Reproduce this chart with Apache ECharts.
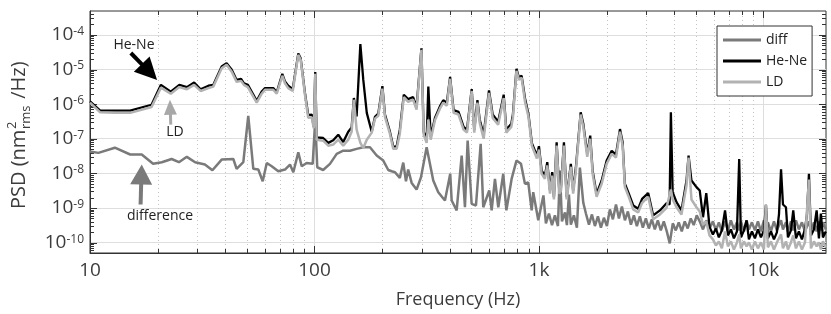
<!DOCTYPE html>
<html>
<head>
<meta charset="utf-8">
<style>
  html, body { margin: 0; padding: 0; background: #fff; }
  #chart { width: 831px; height: 314px; }
</style>
<script src="https://cdn.jsdelivr.net/npm/echarts@6.0.0/dist/echarts.min.js"></script>
</head>
<body>
<div id="chart"></div>
<script>
// axis ticks
const xTickValues = [10, 100, 1000, 10000];
const xTickLabels = ["10", "100", "1k", "10k"];
const yTickExponents = [-10, -9, -8, -7, -6, -5, -4];
const legendNames = ["diff", "He-Ne", "LD"];

// He-Ne PSD [Hz, nm^2/Hz]
const heNe = [
  [10, 1.2e-6], [11.1, 6.5e-7], [12.9, 6.5e-7], [15.1, 6.5e-7], [18.8, 9.6e-7],
  [20.7, 3.6e-6], [22.9, 2.3e-6], [25.0, 3.6e-6], [27.0, 3.1e-6], [29.1, 4.2e-6],
  [31.1, 2.7e-6], [33.7, 3.4e-6], [35.4, 3.6e-6], [38.6, 1.22e-5], [40.6, 1.53e-5],
  [42.8, 9.8e-6], [45.0, 5.0e-6], [47.1, 5.4e-6], [48.5, 4.0e-6], [50.5, 3.6e-6],
  [55.3, 1.25e-6], [58.2, 2.3e-6], [60.2, 2.9e-6], [65.5, 2.9e-6], [67.9, 2.2e-6],
  [71.9, 7.5e-6], [73.9, 4.5e-6], [76.4, 3.4e-6], [80.0, 2.7e-6], [84.7, 2.9e-5],
  [86.8, 2.1e-5], [90.7, 2.1e-6], [93.8, 4.8e-7], [97.2, 5.0e-7], [99.3, 2.2e-7],
  [100.8, 8.5e-6], [102.3, 1.1e-7], [104.0, 1.17e-7], [109.3, 1.05e-7], [115.2, 7.6e-8],
  [121.2, 9.0e-8], [127.6, 1.31e-7], [134.3, 8.0e-8], [141.4, 1.6e-7], [146.4, 2.1e-7],
  [149.8, 1.5e-6], [154.1, 4.4e-7], [160.1, 5.4e-5], [165.0, 5.0e-6], [171.0, 5.6e-7],
  [179.9, 1.6e-7], [186.0, 4.3e-7], [192.4, 5.3e-7], [200.7, 3.3e-6], [206.1, 5.0e-7],
  [216.8, 1.6e-7], [224.4, 5.9e-8], [232.3, 6.0e-8], [240, 1.83e-7], [250, 1.87e-6],
  [261.5, 1.4e-6], [275, 1.6e-6], [285, 8.3e-7], [299.5, 4.1e-5], [306.6, 1.6e-7],
  [316, 9.4e-8], [321.5, 3.2e-6], [329.5, 1.14e-7], [344, 4.0e-7], [362, 8.6e-7],
  [374.7, 1.3e-6], [388.7, 1.1e-6], [402, 6.1e-6], [416.6, 6.7e-7], [438.4, 6.0e-7],
  [461.6, 2.2e-7], [478, 1.83e-7], [501.6, 2.7e-6], [515, 1.83e-7], [532, 1.3e-6],
  [544.5, 3.6e-7], [567, 1.31e-7], [599, 2.5e-6], [622, 5.0e-7], [658, 3.1e-7],
  [696.5, 1.87e-6], [715.5, 1.83e-7], [753, 2.7e-7], [765.5, 5.0e-7], [794, 1.05e-5],
  [815, 5.8e-6], [837, 6.6e-6], [867, 1.45e-6], [898, 5.1e-7], [930, 7.5e-8],
  [979, 3.26e-8], [1000, 6.1e-8], [1028, 1.2e-8], [1063, 8.6e-9], [1089, 2.1e-8],
  [1120, 3.2e-9], [1146, 1.08e-8], [1166, 2.05e-9], [1199, 7.9e-8], [1231, 3.2e-9],
  [1254, 4.0e-9], [1292, 7.9e-8], [1329, 2.05e-9], [1387, 1.88e-8], [1420, 3.2e-9],
  [1461, 1.5e-8], [1534, 5.8e-7], [1576, 2.7e-7], [1641, 3.65e-8], [1692, 1.23e-7],
  [1734, 1.2e-8], [1806, 2.56e-9], [1903, 6.2e-9], [2003, 2.34e-8], [2109, 4.5e-8],
  [2204, 3.5e-8], [2296, 1.9e-7], [2359, 7.9e-8], [2414, 5.0e-9], [2499, 2.85e-9],
  [2630, 1.18e-9], [2767, 9.5e-10], [2881, 1.84e-9], [3067, 2.7e-9], [3227, 6.1e-10],
  [3459, 8.5e-10], [3701, 1.37e-9], [3820, 1.26e-9], [3870, 5.8e-7], [3941, 2.85e-9],
  [4100, 1.47e-9], [4315, 8.5e-10], [4543, 6.2e-9], [4640, 3.26e-8], [4780, 6.2e-9],
  [5032, 4.0e-9], [5203, 3.2e-9], [5380, 5.4e-10], [5564, 2.7e-9], [5753, 2.8e-10],
  [5957, 1.72e-10], [6142, 2.55e-10], [6331, 1.41e-10], [6528, 2.25e-10], [6745, 8.5e-10],
  [6950, 1.61e-10], [7164, 2.4e-10], [7388, 1.32e-10], [7620, 2.1e-10], [7800, 2.6e-8],
  [7941, 1.41e-10], [8188, 2.25e-10], [8414, 4.4e-10], [8617, 1.24e-10], [8887, 2.1e-10],
  [9165, 1.32e-10], [9452, 2.4e-10], [9747, 1.41e-10], [10050, 2.25e-10], [10260, 1.24e-9],
  [10470, 1.32e-10], [10800, 2.1e-10], [11140, 1.24e-10], [11480, 1.97e-10], [11730, 6.5e-10],
  [11980, 1.3e-8], [12220, 1.26e-9], [12600, 1.05e-9], [12860, 1.41e-10], [13260, 2.25e-10],
  [13580, 8.5e-10], [13960, 1.32e-10], [14390, 2.1e-10], [14840, 1.24e-10], [15310, 2.4e-10],
  [15630, 6.5e-10], [15950, 9.7e-9], [16280, 1.61e-10], [16790, 2.4e-10], [17260, 8.5e-10],
  [17670, 1.32e-10], [18030, 6.9e-10], [18410, 1.41e-10], [18970, 2.1e-10]
];

// LD PSD
const ld = [
  [10, 1.1e-6], [11.1, 5.8e-7], [12.9, 5.6e-7], [15.1, 5.6e-7], [18.8, 8.3e-7],
  [20.7, 3.0e-6], [22.9, 2.0e-6], [25.0, 3.1e-6], [27.0, 2.7e-6], [29.1, 3.6e-6],
  [31.1, 2.4e-6], [33.7, 2.9e-6], [35.4, 3.2e-6], [38.6, 1.08e-5], [40.6, 1.37e-5],
  [42.8, 8.6e-6], [45.0, 4.4e-6], [47.1, 4.7e-6], [48.5, 3.6e-6], [50.5, 3.1e-6],
  [55.3, 1.1e-6], [58.2, 2.0e-6], [60.2, 2.6e-6], [65.5, 2.6e-6], [67.9, 2.0e-6],
  [71.9, 6.6e-6], [73.9, 4.0e-6], [76.4, 2.9e-6], [80.0, 2.4e-6], [84.7, 2.65e-5],
  [86.8, 1.9e-5], [90.7, 1.87e-6], [93.8, 4.0e-7], [97.2, 4.2e-7], [99.3, 2.0e-7],
  [100.8, 7.5e-6], [102.3, 9.4e-8], [104.0, 9.4e-8], [109.3, 8.8e-8], [115.2, 6.3e-8],
  [121.2, 6.8e-8], [127.6, 9.4e-8], [134.3, 6.3e-8], [141.4, 9.4e-8], [146.4, 1.6e-7],
  [149.8, 1.34e-6], [154.1, 1.83e-7], [160.1, 7.6e-8], [165.0, 5.4e-8], [171.0, 9.4e-8],
  [179.9, 1.5e-7], [186.0, 3.8e-7], [192.4, 4.6e-7], [200.7, 2.8e-6], [206.1, 4.3e-7],
  [216.8, 1.4e-7], [224.4, 5.1e-8], [232.3, 5.1e-8], [240, 1.4e-7], [250, 1.6e-6],
  [261.5, 1.16e-6], [275, 1.34e-6], [285, 6.9e-7], [299.5, 3.7e-5], [306.6, 1.31e-7],
  [316, 7.6e-8], [321.5, 3.6e-7], [329.5, 9.4e-8], [344, 3.4e-7], [362, 7.4e-7],
  [374.7, 1.1e-6], [388.7, 9.0e-7], [402, 5.4e-6], [416.6, 5.6e-7], [438.4, 5.0e-7],
  [461.6, 1.83e-7], [478, 1.5e-7], [501.6, 2.4e-6], [515, 1.5e-7], [532, 1.1e-6],
  [544.5, 2.9e-7], [567, 1.0e-7], [599, 2.1e-6], [622, 4.0e-7], [658, 2.55e-7],
  [696.5, 1.5e-6], [715.5, 1.5e-7], [753, 2.2e-7], [765.5, 4.0e-7], [794, 9.2e-6],
  [815, 5.0e-6], [837, 5.8e-6], [867, 1.16e-6], [898, 4.3e-7], [930, 6.3e-8],
  [979, 2.7e-8], [1000, 4.85e-8], [1028, 9.7e-9], [1063, 7.0e-9], [1089, 1.7e-8],
  [1120, 2.6e-9], [1146, 8.6e-9], [1166, 1.76e-9], [1199, 6.3e-8], [1231, 2.6e-9],
  [1254, 3.2e-9], [1292, 6.3e-8], [1329, 1.76e-9], [1387, 1.55e-8], [1420, 2.6e-9],
  [1461, 1.2e-8], [1534, 5.0e-7], [1576, 2.2e-7], [1641, 3.0e-8], [1692, 1.0e-7],
  [1734, 9.7e-9], [1806, 2.1e-9], [1903, 5.0e-9], [2003, 1.9e-8], [2109, 3.65e-8],
  [2204, 2.85e-8], [2296, 1.6e-7], [2359, 6.3e-8], [2414, 4.1e-9], [2499, 2.3e-9],
  [2630, 9.1e-10], [2767, 7.4e-10], [2881, 1.41e-9], [3067, 2.1e-9], [3227, 4.7e-10],
  [3459, 6.5e-10], [3701, 1.01e-9], [3870, 3.4e-9], [3941, 1.76e-9], [4100, 1.05e-9],
  [4315, 6.5e-10], [4543, 4.5e-9], [4640, 2.85e-8], [4780, 1.76e-9], [5032, 1.05e-9],
  [5203, 7.9e-10], [5380, 3.3e-10], [5564, 4.1e-10], [5753, 1.61e-10], [5957, 1.24e-10],
  [6142, 8.3e-11], [6331, 1.08e-10], [6528, 6.8e-11], [6745, 2.1e-10], [6950, 7.8e-11],
  [7164, 1.08e-10], [7388, 6.3e-11], [7620, 1.01e-10], [7800, 1.72e-10], [7941, 6.8e-11],
  [8188, 1.08e-10], [8414, 7.8e-11], [8617, 1.01e-10], [8887, 6.3e-11], [9165, 1.08e-10],
  [9452, 6.8e-11], [9747, 1.01e-10], [10050, 6.3e-11], [10260, 1.24e-9], [10470, 7.3e-11],
  [10800, 1.08e-10], [11140, 6.3e-11], [11480, 1.01e-10], [11980, 1.72e-10], [12220, 6.8e-11],
  [12600, 1.08e-10], [12860, 6.3e-11], [13260, 1.01e-10], [13580, 1.61e-10], [13960, 6.8e-11],
  [14390, 1.08e-10], [14840, 6.3e-11], [15310, 1.01e-10], [15950, 6.6e-9], [16280, 6.8e-11],
  [16790, 1.08e-10], [17260, 7.8e-11], [17670, 1.01e-10], [18030, 6.3e-11], [18410, 1.08e-10],
  [18970, 7.3e-11]
];

// difference PSD
const diff = [
  [10, 4.3e-8], [10.9, 3.9e-8], [12.9, 5.5e-8], [15.1, 3.5e-8], [17.0, 3.5e-8],
  [19.1, 1.9e-8], [20.9, 2.1e-8], [23.1, 2.6e-8], [24.9, 2.1e-8], [27.0, 3.0e-8],
  [29.4, 2.1e-8], [32.5, 1.8e-8], [35.1, 1.23e-8], [38.6, 2.5e-8], [43.5, 2.6e-8],
  [45.0, 1.35e-8], [48.2, 2.1e-8], [50.7, 4.6e-7], [53.4, 1.35e-8], [56.2, 1.29e-8],
  [58.8, 5.9e-9], [61.3, 2.0e-8], [64.5, 1.6e-8], [69.0, 1.15e-8], [73.9, 1.29e-8],
  [77.8, 1.8e-8], [80.5, 1.08e-8], [84.7, 4.05e-8], [87.7, 1.6e-8], [92.3, 2.0e-8],
  [98.2, 1.88e-8], [100.8, 3.6e-7], [102.9, 1.5e-8], [109.3, 1.25e-8], [117.2, 1.88e-8],
  [125.6, 3.65e-8], [134.3, 4.5e-8], [143.9, 4.5e-8], [154.1, 5.1e-8], [165.0, 5.65e-8],
  [176.7, 5.65e-8], [189.3, 3.26e-8], [202.5, 2.34e-8], [213.2, 1.25e-8], [220.8, 1.15e-8],
  [228.4, 1.08e-8], [240, 7.4e-9], [248.6, 2.05e-8], [255.6, 5.9e-9], [261.5, 1.29e-8],
  [271, 5.3e-9], [285, 3.4e-9], [298.2, 7.7e-9], [316, 5.65e-8], [338.2, 6.2e-9],
  [356, 2.85e-9], [381.3, 1.64e-9], [402.5, 9.7e-9], [408.5, 1.64e-9], [429.9, 8.5e-10],
  [452.6, 3.26e-8], [468.1, 1.05e-9], [481.2, 8.8e-8], [501.4, 1.32e-9], [524.1, 1.18e-9],
  [550, 7.1e-8], [564.9, 1.05e-9], [600.6, 3.2e-9], [615.6, 8.5e-10], [636.8, 6.9e-9],
  [659, 1.05e-9], [693.4, 9.7e-9], [716, 8.5e-10], [755.5, 6.9e-9], [794, 2.34e-8],
  [831.6, 1.88e-8], [866, 5.0e-9], [896, 5.5e-9], [928, 8.5e-10], [943, 2.85e-9],
  [993, 4.4e-10], [1010, 4.4e-10], [1047, 2.3e-9], [1074, 3.6e-10], [1108, 6.9e-10],
  [1143, 3.2e-10], [1178, 6.1e-10], [1215, 3.0e-10], [1240, 1.2e-8], [1266, 4.1e-10],
  [1306, 7.4e-10], [1332, 3.2e-10], [1360, 2.45e-9], [1387, 3.3e-10], [1431, 6.1e-10],
  [1476, 2.7e-10], [1522, 1.47e-8], [1576, 1.41e-9], [1619, 6.9e-10], [1670, 3.3e-10],
  [1722, 6.5e-10], [1775, 3.0e-10], [1831, 5.7e-10], [1888, 2.7e-10], [1947, 5.2e-10],
  [2008, 3.0e-10], [2070, 9.1e-10], [2135, 4.7e-10], [2204, 1.26e-9], [2271, 5.0e-10],
  [2342, 1.1e-9], [2415, 4.4e-10], [2490, 7.9e-10], [2568, 3.3e-10], [2648, 6.1e-10],
  [2730, 3.0e-10], [2815, 5.7e-10], [2903, 2.7e-10], [2994, 5.0e-10], [3087, 2.55e-10],
  [3183, 4.7e-10], [3282, 2.4e-10], [3385, 4.4e-10], [3490, 2.25e-10], [3599, 4.1e-10],
  [3711, 2.1e-10], [3826, 9.5e-11], [3946, 3.6e-10], [4069, 2.25e-10], [4196, 3.85e-10],
  [4327, 2.1e-10], [4461, 4.1e-10], [4600, 2.55e-10], [4744, 5.0e-10], [4892, 3.2e-10],
  [5044, 6.1e-10], [5203, 4.1e-10], [5380, 2.4e-10], [5564, 4.4e-10], [5753, 2.55e-10],
  [5957, 4.1e-10], [6142, 2.25e-10], [6331, 3.85e-10], [6528, 2.1e-10], [6745, 4.1e-10],
  [6950, 2.25e-10], [7164, 4.4e-10], [7388, 2.4e-10], [7620, 3.85e-10], [7800, 2.25e-10],
  [7941, 4.1e-10], [8188, 2.1e-10], [8414, 4.4e-10], [8617, 2.4e-10], [8887, 3.85e-10],
  [9165, 2.25e-10], [9452, 4.1e-10], [9747, 2.1e-10], [10050, 4.4e-10], [10260, 2.4e-10],
  [10470, 3.85e-10], [10800, 2.1e-10], [11140, 4.1e-10], [11480, 2.25e-10], [11980, 4.4e-10],
  [12220, 2.4e-10], [12600, 3.85e-10], [12860, 2.1e-10], [13260, 4.1e-10], [13580, 2.25e-10],
  [13960, 4.4e-10], [14390, 2.4e-10], [14840, 3.85e-10], [15310, 2.1e-10], [15950, 4.1e-10],
  [16280, 2.25e-10], [16790, 3.85e-10], [17260, 2.1e-10], [17670, 4.1e-10], [18030, 2.25e-10],
  [18410, 3.85e-10], [18970, 2.4e-10]
];

// annotations, in data coordinates
const notes = [
  { text: "He-Ne", at: [15.7, 5.15e-5], tail: [15.2, 3.0e-5], tip: [19.9, 5.0e-6], color: "#000", head: 22, half: 11, shaft: 4, size: 14 },
  { text: "LD", at: [23.9, 1.6e-7], tail: [22.9, 2.55e-7], tip: [22.7, 1.34e-6], color: "#a8a8a8", head: 15, half: 6.5, shaft: 3, size: 14 },
  { text: "difference", at: [20.5, 5.7e-10], tail: [16.8, 1.26e-9], tip: [17.0, 1.8e-8], color: "#7a7a7a", head: 20, half: 11, shaft: 4, size: 14 }
];

const X_MIN = 10, X_MAX = 19000, Y_MIN = 5e-11, Y_MAX = 4.9e-4;
const FONT = "Open Sans";
const TEXT = "#3c3c3c";

// minor / major tick positions for the box ticks and the dotted grid
const tickData = [];
for (let d = 10; d < X_MAX; d *= 10) {
  for (let m = 1; m <= 9; m++) {
    const f = d * m;
    if (f >= X_MIN && f <= X_MAX) tickData.push([f, Y_MIN, m === 1 ? 1 : 0]);
  }
}
for (let k = -11; k <= -4; k++) {
  for (let m = 1; m <= 9; m++) {
    const v = m * Math.pow(10, k);
    if (v >= Y_MIN && v <= Y_MAX) tickData.push([X_MIN, v, m === 1 ? 3 : 2]);
  }
}

function renderTicks(params, api) {
  const kind = api.value(2);
  const children = [];
  const ink = { stroke: "#333", lineWidth: 1 };
  if (kind < 2) {
    const f = api.value(0);
    const b = api.coord([f, Y_MIN]);
    const t = api.coord([f, Y_MAX]);
    const x = Math.round(b[0]) + 0.5;
    const len = kind === 1 ? 7 : 4;
    if (kind === 0) {
      children.push({ type: "line", shape: { x1: x, y1: b[1], x2: x, y2: t[1] }, style: { stroke: "#c4c4c4", lineWidth: 1, lineDash: [1, 3] } });
    }
    children.push({ type: "line", shape: { x1: x, y1: b[1], x2: x, y2: b[1] - len }, style: ink });
    children.push({ type: "line", shape: { x1: x, y1: t[1], x2: x, y2: t[1] + len }, style: ink });
  } else {
    const v = api.value(1);
    const l = api.coord([X_MIN, v]);
    const r = api.coord([X_MAX, v]);
    const y = Math.round(l[1]) + 0.5;
    const len = kind === 3 ? 7 : 4;
    children.push({ type: "line", shape: { x1: l[0], y1: y, x2: l[0] + len, y2: y }, style: ink });
    children.push({ type: "line", shape: { x1: r[0], y1: y, x2: r[0] - len, y2: y }, style: ink });
  }
  return { type: "group", children: children };
}

function isPow(v, k) {
  return Math.abs(Math.log10(v) - k) < 1e-6;
}

const chart = echarts.init(document.getElementById("chart"));

chart.setOption({
  animation: false,
  textStyle: { fontFamily: FONT },
  grid: { left: 90, right: 5, top: 11, bottom: 60, show: true, borderColor: "#333", borderWidth: 1, backgroundColor: "#fff" },
  legend: {
    data: legendNames,
    orient: "vertical",
    left: 717,
    top: 26,
    padding: [7, 5, 7, 6],
    itemGap: 7,
    itemWidth: 38,
    itemHeight: 3,
    icon: "rect",
    backgroundColor: "#fff",
    borderColor: "#333",
    borderWidth: 1,
    borderRadius: 0,
    textStyle: { fontSize: 14, color: "#222", fontFamily: FONT }
  },
  xAxis: {
    type: "log",
    logBase: 10,
    min: X_MIN,
    max: X_MAX,
    name: "Frequency (Hz)",
    nameLocation: "middle",
    nameGap: 38,
    nameTextStyle: { fontSize: 18, color: TEXT, fontFamily: FONT },
    axisLine: { show: true, lineStyle: { color: "#333" } },
    axisTick: { show: false },
    splitLine: { show: true, showMinLine: false, showMaxLine: false, lineStyle: { color: "#dedede", width: 1 } },
    axisLabel: {
      fontSize: 19,
      color: TEXT,
      margin: 8,
      formatter: function (v) {
        const i = xTickValues.findIndex(function (t) { return isPow(v, Math.log10(t)); });
        return i >= 0 ? xTickLabels[i] : "";
      }
    }
  },
  yAxis: {
    type: "log",
    logBase: 10,
    min: Y_MIN,
    max: Y_MAX,
    axisLine: { show: true, lineStyle: { color: "#333" } },
    axisTick: { show: false },
    splitLine: { show: true, showMinLine: false, showMaxLine: false, lineStyle: { color: "#dedede", width: 1 } },
    axisLabel: {
      margin: 6,
      formatter: function (v) {
        const k = Math.round(Math.log10(v));
        if (!isPow(v, k) || yTickExponents.indexOf(k) < 0) return "";
        return "{b|10}{s|" + k + "}";
      },
      rich: {
        b: { fontSize: 19, color: TEXT, fontFamily: FONT },
        s: { fontSize: 12, color: TEXT, fontFamily: FONT, verticalAlign: "top", lineHeight: 10 }
      }
    }
  },
  series: [
    {
      type: "custom",
      silent: true,
      z: 1,
      renderItem: renderTicks,
      encode: { x: 0, y: 1 },
      data: tickData
    },
    {
      name: "diff",
      type: "line",
      data: diff,
      showSymbol: false,
      z: 2,
      lineStyle: { color: "#7a7a7a", width: 2.5 },
      itemStyle: { color: "#7a7a7a" }
    },
    {
      name: "He-Ne",
      type: "line",
      data: heNe,
      showSymbol: false,
      z: 3,
      lineStyle: { color: "#000", width: 2.3 },
      itemStyle: { color: "#000" }
    },
    {
      name: "LD",
      type: "line",
      data: ld,
      showSymbol: false,
      z: 4,
      lineStyle: { color: "#b2b2b2", width: 2.5 },
      itemStyle: { color: "#b2b2b2" }
    }
  ]
});

// arrows and labels placed through the chart's own scales
function px(p) {
  return chart.convertToPixel({ gridIndex: 0 }, p);
}

function arrow(n) {
  const a = px(n.tail), b = px(n.tip);
  const dx = b[0] - a[0], dy = b[1] - a[1];
  const len = Math.hypot(dx, dy);
  const ux = dx / len, uy = dy / len;
  const bx = b[0] - ux * n.head, by = b[1] - uy * n.head;
  const nx = -uy, ny = ux;
  return [
    { type: "line", z: 20, shape: { x1: a[0], y1: a[1], x2: bx + ux, y2: by + uy }, style: { stroke: n.color, lineWidth: n.shaft } },
    { type: "polygon", z: 20, shape: { points: [b, [bx + nx * n.half, by + ny * n.half], [bx - nx * n.half, by - ny * n.half]] }, style: { fill: n.color } }
  ];
}

const graphics = [];
notes.forEach(function (n) {
  arrow(n).forEach(function (g) { graphics.push(g); });
  const p = px(n.at);
  graphics.push({ type: "text", z: 20, x: p[0], y: p[1], style: { text: n.text, fontSize: n.size, fontFamily: FONT, fill: "#222", align: "center", verticalAlign: "middle" } });
});

// y axis title: PSD (nm^2_rms /Hz)
graphics.push({
  type: "group",
  x: 19,
  y: 209,
  rotation: Math.PI / 2,
  children: [
    { type: "text", x: 0, y: 0, style: { text: "PSD (nm", fontSize: 20, fontFamily: FONT, fill: TEXT, align: "left", verticalAlign: "middle" } },
    { type: "text", x: 80, y: -7, style: { text: "2", fontSize: 13, fontFamily: FONT, fill: TEXT, align: "left", verticalAlign: "middle" } },
    { type: "text", x: 80, y: 7, style: { text: "rms", fontSize: 13, fontFamily: FONT, fill: TEXT, align: "left", verticalAlign: "middle" } },
    { type: "text", x: 105, y: 0, style: { text: " /Hz)", fontSize: 20, fontFamily: FONT, fill: TEXT, align: "left", verticalAlign: "middle" } }
  ]
});

chart.setOption({ graphic: graphics });
</script>
</body>
</html>
